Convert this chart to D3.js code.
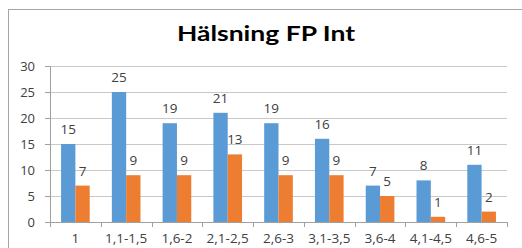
<!DOCTYPE html>
<html>
<head>
<meta charset="utf-8">
<script src="https://cdn.jsdelivr.net/npm/d3@7"></script>
<style>
  body { margin: 0; background: #fff; }
  svg { display: block; }
</style>
</head>
<body>
<svg id="chart"></svg>
<script>
// data
const categories = ["1", "1,1-1,5", "1,6-2", "2,1-2,5", "2,6-3", "3,1-3,5", "3,6-4", "4,1-4,5", "4,6-5"];
const seriesA = [15, 25, 19, 21, 19, 16, 7, 8, 11];
const seriesB = [7, 9, 9, 13, 9, 9, 5, 1, 2];
const yTicks = [0, 5, 10, 15, 20, 25, 30];
const title = "Hälsning FP Int";

const W = 522, H = 248;
const margin = { top: 66, right: 15, bottom: 26, left: 50 };
const plotW = W - margin.left - margin.right;
const plotH = H - margin.top - margin.bottom;

const svg = d3.select("#chart").attr("width", W).attr("height", H);

// chart border (right/bottom edges are cut off in the original)
svg.append("rect")
  .attr("x", 8.5).attr("y", 9.5)
  .attr("width", W + 10).attr("height", H + 10)
  .attr("fill", "#fff")
  .attr("stroke", "#a6a6a6");

svg.append("text")
  .attr("x", 266).attr("y", 41)
  .attr("text-anchor", "middle")
  .attr("textLength", 178)
  .attr("lengthAdjust", "spacingAndGlyphs")
  .style("font-family", "Lato, 'Open Sans', sans-serif")
  .style("font-weight", "bold")
  .style("font-size", "21px")
  .attr("fill", "#000")
  .text(title);

const g = svg.append("g").attr("transform", `translate(${margin.left},${margin.top})`);

const x = d3.scaleBand()
  .domain(categories)
  .range([0, plotW])
  .paddingInner(0.436)
  .paddingOuter(0.218);

const xs = d3.scaleBand()
  .domain(["a", "b"])
  .range([0, x.bandwidth()]);

const y = d3.scaleLinear().domain([0, 30]).range([plotH, 0]);

// gridlines
g.append("g")
  .selectAll("line")
  .data(yTicks.filter(d => d > 0))
  .join("line")
  .attr("x1", -5).attr("x2", plotW)
  .attr("y1", d => Math.round(y(d)) + 0.5)
  .attr("y2", d => Math.round(y(d)) + 0.5)
  .attr("stroke", "#c9c9c9");

// y axis
const yAxis = g.append("g")
  .call(d3.axisLeft(y).tickValues(yTicks).tickSize(5).tickPadding(10));
yAxis.select(".domain").attr("stroke", "#a0a0a0");
yAxis.selectAll(".tick line").attr("stroke", "#a0a0a0");
yAxis.selectAll("text")
  .style("font-family", "'Open Sans', sans-serif")
  .style("font-size", "13px")
  .attr("fill", "#404040");

// bars
const groups = g.selectAll(".grp")
  .data(categories)
  .join("g")
  .attr("class", "grp")
  .attr("transform", d => `translate(${x(d)},0)`);

const rows = categories.map((c, i) => [
  { key: "a", v: seriesA[i], color: "#5b9bd5" },
  { key: "b", v: seriesB[i], color: "#ed7d31" }
]);

groups.each(function (c, i) {
  const sel = d3.select(this);
  sel.selectAll("rect")
    .data(rows[i])
    .join("rect")
    .attr("x", d => xs(d.key))
    .attr("y", d => y(d.v))
    .attr("width", xs.bandwidth())
    .attr("height", d => plotH - y(d.v))
    .attr("fill", d => d.color);
  sel.selectAll("text")
    .data(rows[i])
    .join("text")
    .attr("x", d => xs(d.key) + xs.bandwidth() / 2)
    .attr("y", d => y(d.v) - 10)
    .attr("text-anchor", "middle")
    .style("font-family", "'Open Sans', sans-serif")
    .style("font-size", "13.5px")
    .attr("fill", "#404040")
    .text(d => d.v);
});

// x axis with ticks at category boundaries
const xAxisG = g.append("g").attr("transform", `translate(0,${plotH})`);
xAxisG.append("line")
  .attr("x1", 0).attr("x2", plotW)
  .attr("y1", 0.5).attr("y2", 0.5)
  .attr("stroke", "#a0a0a0");
xAxisG.selectAll(".bt")
  .data(categories.concat(["end"]))
  .join("line")
  .attr("class", "bt")
  .attr("x1", (d, i) => Math.round(i * x.step()) + 0.5)
  .attr("x2", (d, i) => Math.round(i * x.step()) + 0.5)
  .attr("y1", 0).attr("y2", 5)
  .attr("stroke", "#a0a0a0");
xAxisG.selectAll(".xl")
  .data(categories)
  .join("text")
  .attr("class", "xl")
  .attr("x", d => x(d) + x.bandwidth() / 2)
  .attr("y", 21)
  .attr("text-anchor", "middle")
  .style("font-family", "'Open Sans', sans-serif")
  .style("font-size", "13.5px")
  .attr("fill", "#404040")
  .text(d => d);
</script>
</body>
</html>
